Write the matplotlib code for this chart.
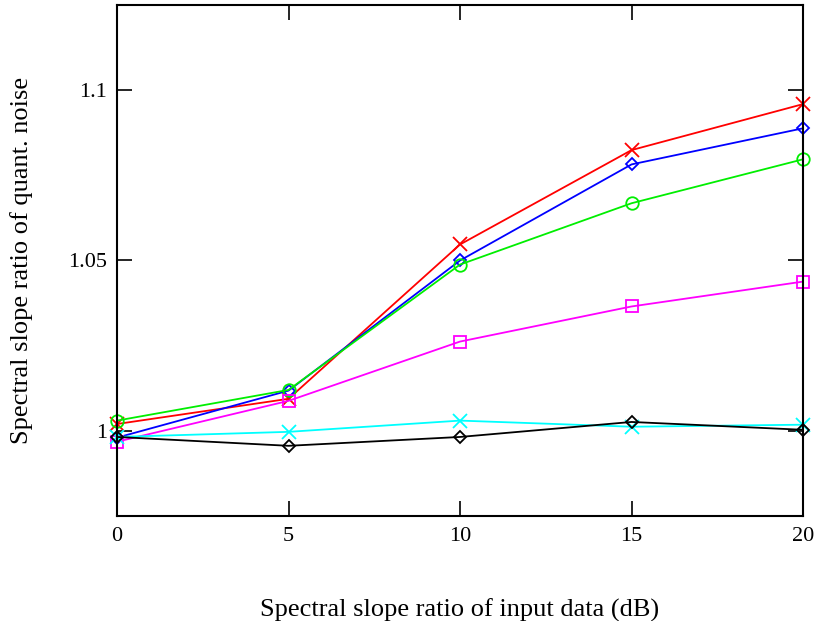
import numpy as np
import matplotlib
matplotlib.use("Agg")
import matplotlib.pyplot as plt

plt.rcParams['font.family'] = ['Liberation Serif', 'DejaVu Serif']

snr = [0, 5, 10, 15, 20]

red_vals = [1.002, 1.0094, 1.0547, 1.0824, 1.0959]
blue_vals = [0.998, 1.0118, 1.050, 1.0782, 1.0888]
green_vals = [1.003, 1.012, 1.0488, 1.0668, 1.0797]
magenta_vals = [0.9968, 1.0088, 1.0262, 1.0365, 1.0438]
cyan_vals = [0.9982, 0.9997, 1.003, 1.0012, 1.0018]
black_vals = [0.9982, 0.9956, 0.9982, 1.0026, 1.0003]

series = [
    (red_vals, 'red', 'x', 10),
    (blue_vals, 'blue', 'D', 6.5),
    (green_vals, '#00ee00', 'o', 9),
    (magenta_vals, 'magenta', 's', 8.5),
    (cyan_vals, 'cyan', 'x', 10),
    (black_vals, 'black', 'D', 6.5),
]

fig = plt.figure(figsize=(8.19, 6.21), dpi=100)
ax = fig.add_axes([0.1429, 0.1691, 0.8376, 0.8229])

for vals, col, mk, ms in series:
    ax.plot(snr, vals, color=col, marker=mk, markersize=ms,
            markerfacecolor='none', markeredgecolor=col,
            markeredgewidth=1.3, linewidth=1.3, clip_on=False)

ax.set_xlim(0, 20)
ax.set_ylim(0.975, 1.125)
ax.set_xticks([0, 5, 10, 15, 20])
ax.set_xticklabels(['0', '5', '10', '15', '20'])
ax.set_yticks([1.0, 1.05, 1.1])
ax.set_yticklabels(['1', '1.05', '1.1'])

ax.tick_params(direction='in', length=11, width=1.2, labelsize=16,
               top=True, right=True)
ax.tick_params(axis='x', pad=8)
ax.tick_params(axis='y', pad=7)
for sp in ax.spines.values():
    sp.set_linewidth(1.5)

ax.set_xlabel('Spectral slope ratio of input data (dB)', fontsize=19)
ax.set_ylabel('Spectral slope ratio of quant. noise', fontsize=19)
ax.xaxis.set_label_coords(0.5, -0.162)
ax.yaxis.set_label_coords(-0.1224, 0.5)

fig.savefig('out.png', dpi=100)
